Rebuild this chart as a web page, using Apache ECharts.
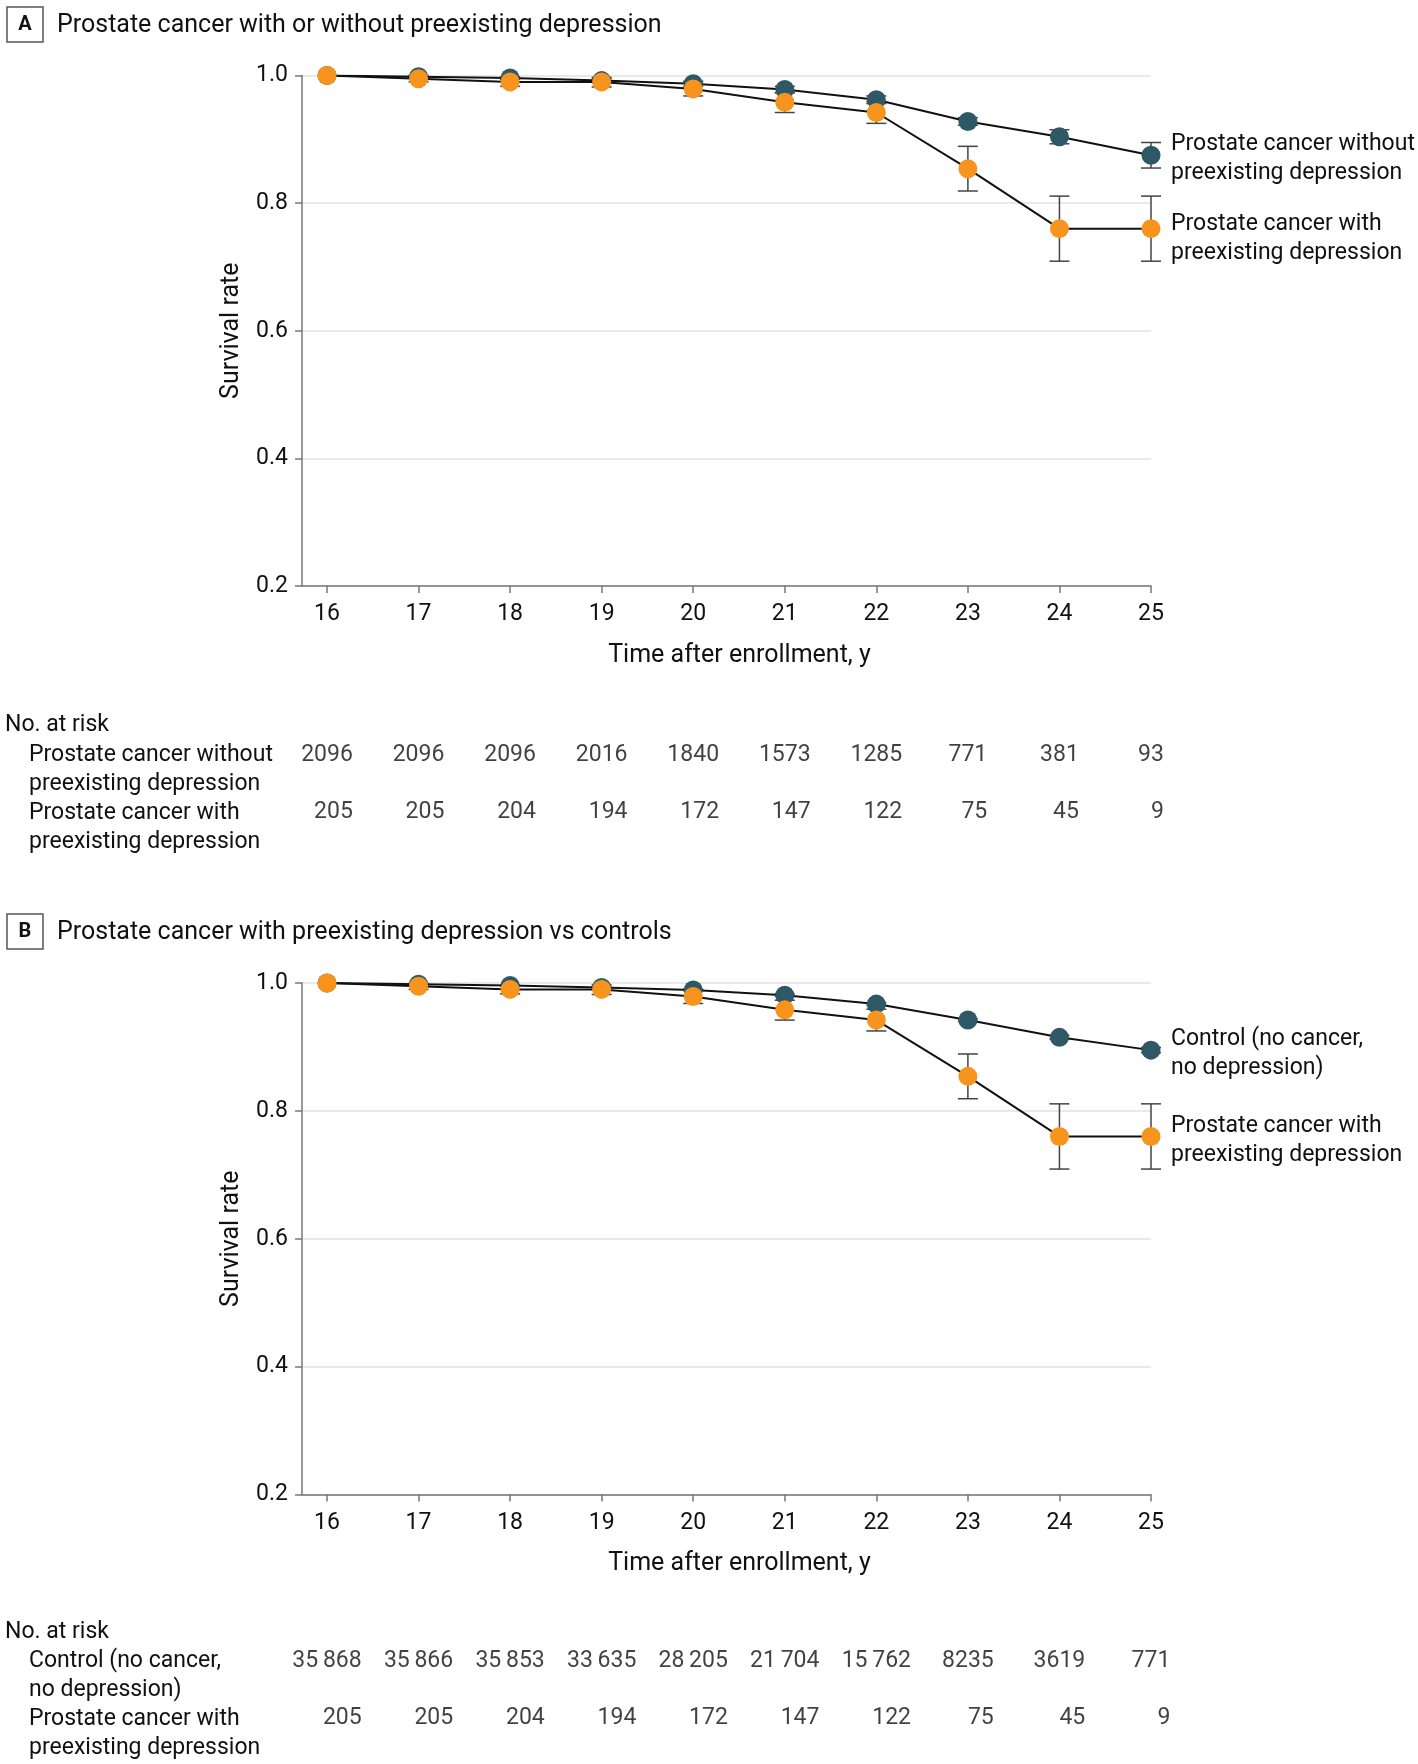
<!DOCTYPE html>
<html>
<head>
<meta charset="utf-8">
<script src="https://cdn.jsdelivr.net/npm/echarts@6/dist/echarts.min.js"></script>
</head>
<body style="margin:0;background:#fff;">
<div id="main" style="width:1418px;height:1764px;"></div>
<script type="text/javascript">
    // data
    var years = [16, 17, 18, 19, 20, 21, 22, 23, 24, 25];

    // panel A: prostate cancer without preexisting depression
    var withoutDep = [1.000, 0.998, 0.996, 0.992, 0.987, 0.978, 0.962, 0.928, 0.904, 0.875];
    var withoutDepLo = [null, 0.996, 0.994, 0.989, 0.983, 0.973, 0.956, 0.922, 0.893, 0.855];
    var withoutDepHi = [null, 1.000, 0.998, 0.995, 0.991, 0.983, 0.968, 0.934, 0.915, 0.895];

    // prostate cancer with preexisting depression (same in A and B)
    var withDep = [1.000, 0.995, 0.990, 0.990, 0.979, 0.958, 0.942, 0.854, 0.760, 0.760];
    var withDepLo = [null, 0.990, 0.983, 0.982, 0.968, 0.942, 0.925, 0.819, 0.709, 0.709];
    var withDepHi = [null, 0.999, 0.996, 0.997, 0.990, 0.973, 0.959, 0.889, 0.811, 0.811];

    // panel B: controls
    var control = [1.000, 0.998, 0.996, 0.993, 0.989, 0.981, 0.967, 0.942, 0.915, 0.895];
    var controlLo = [null, 0.997, 0.995, 0.992, 0.988, 0.979, 0.965, 0.940, 0.912, 0.891];
    var controlHi = [null, 0.999, 0.997, 0.994, 0.990, 0.983, 0.969, 0.944, 0.918, 0.899];

    // numbers at risk
    var riskWithoutDep = [2096, 2096, 2096, 2016, 1840, 1573, 1285, 771, 381, 93];
    var riskWithDep = [205, 205, 204, 194, 172, 147, 122, 75, 45, 9];
    var riskControl = [35868, 35866, 35853, 33635, 28205, 21704, 15762, 8235, 3619, 771];

    var DARK = '#2e5866';
    var ORANGE = '#f7941e';
    var FONT = 'Roboto';
    var FS = 23;
    var FS_BIG = 25;
    var X_MIN = 15.727;

    var ctx = document.createElement('canvas').getContext('2d');
    ctx.font = FS + 'px ' + FONT;
    function tw(s) { return ctx.measureText(s).width; }

    function fmt(n) {
        var s = String(n);
        if (n >= 10000) s = s.slice(0, s.length - 3) + '\u2009' + s.slice(-3);
        return s;
    }

    var myChart = echarts.init(document.getElementById('main'));

    var txt = {fontFamily: FONT, fontSize: FS, color: '#111'};
    var txtBig = {fontFamily: FONT, fontSize: FS_BIG, color: '#111'};

    function plotX(gi) {
        return {
            type: 'value', gridIndex: gi, min: X_MIN, max: 25,
            axisLine: {lineStyle: {color: '#777', width: 1.5}},
            axisTick: {show: true, length: 7, customValues: years, lineStyle: {color: '#777', width: 1.5}},
            axisLabel: Object.assign({customValues: years, margin: 17}, txt),
            splitLine: {show: false},
            name: 'Time after enrollment, y', nameLocation: 'middle', nameGap: 57,
            nameTextStyle: Object.assign({padding: [0, 0, 0, 26]}, txtBig)
        };
    }
    function plotY(gi) {
        return {
            type: 'value', gridIndex: gi, min: 0.2, max: 1.0, interval: 0.2,
            axisLine: {show: true, lineStyle: {color: '#777', width: 1.5}},
            axisTick: {show: true, length: 7, lineStyle: {color: '#777', width: 1.5}},
            axisLabel: Object.assign({margin: 14, formatter: function (v) { return v.toFixed(1); }}, txt),
            splitLine: {show: true, lineStyle: {color: '#e2e2e2', width: 1.5}},
            name: 'Survival rate', nameLocation: 'middle', nameGap: 58, nameRotate: 90,
            nameTextStyle: txtBig
        };
    }
    function riskX(gi) {
        return {type: 'value', gridIndex: gi, min: X_MIN, max: 25, show: false};
    }
    function riskY(gi, names) {
        return {
            type: 'category', gridIndex: gi, data: names, inverse: true,
            axisLine: {show: false}, axisTick: {show: false}, splitLine: {show: false},
            axisLabel: Object.assign({align: 'left', margin: 273, lineHeight: 29}, txt)
        };
    }

    function lineSeries(gi, vals, label, dy) {
        return {
            type: 'line', xAxisIndex: gi, yAxisIndex: gi, z: 2,
            data: years.map(function (x, i) { return [x, vals[i]]; }),
            symbol: 'none', lineStyle: {color: '#111', width: 2},
            endLabel: Object.assign({show: true, formatter: label, distance: 20, offset: [0, dy], lineHeight: 29}, txt),
            silent: true
        };
    }
    function dotSeries(gi, vals, color) {
        return {
            type: 'scatter', xAxisIndex: gi, yAxisIndex: gi, z: 3,
            data: years.map(function (x, i) { return [x, vals[i]]; }),
            symbol: 'circle', symbolSize: 19, itemStyle: {color: color, opacity: 1}
        };
    }
    function errSeries(gi, lo, hi) {
        var d = [];
        years.forEach(function (x, i) { if (lo[i] != null) d.push([x, lo[i], hi[i]]); });
        return {
            type: 'custom', xAxisIndex: gi, yAxisIndex: gi, z: 1,
            data: d, encode: {x: 0, y: [1, 2]},
            renderItem: function (params, api) {
                var t = api.coord([api.value(0), api.value(2)]);
                var b = api.coord([api.value(0), api.value(1)]);
                var h = 10;
                var st = {stroke: '#444', lineWidth: 1.5};
                return {type: 'group', children: [
                    {type: 'line', shape: {x1: t[0], y1: t[1], x2: b[0], y2: b[1]}, style: st},
                    {type: 'line', shape: {x1: t[0] - h, y1: t[1], x2: t[0] + h, y2: t[1]}, style: st},
                    {type: 'line', shape: {x1: b[0] - h, y1: b[1], x2: b[0] + h, y2: b[1]}, style: st}
                ]};
            }
        };
    }
    function riskSeries(gi, top, bottom) {
        var d = [];
        years.forEach(function (x, i) {
            var half = tw(fmt(top[i])) / 2;
            d.push({name: fmt(top[i]), value: [x, 0], label: {offset: [half, -14.5]}});
            d.push({name: fmt(bottom[i]), value: [x, 1], label: {offset: [half, -15]}});
        });
        return {
            type: 'scatter', xAxisIndex: gi, yAxisIndex: gi, data: d,
            symbolSize: 1, itemStyle: {color: 'rgba(0,0,0,0)'},
            label: Object.assign({show: true, position: 'inside', align: 'right', verticalAlign: 'middle', formatter: '{b}'}, txt),
            silent: true
        };
    }

    function panelHeader(letter, title, dy) {
        return [
            {type: 'rect', shape: {x: 7, y: 7 + dy, width: 36, height: 35},
             style: {fill: 'none', stroke: '#555', lineWidth: 1.5}},
            {type: 'text', x: 25, y: 25 + dy,
             style: {text: letter, fontFamily: FONT, fontSize: 20, fontWeight: 'bold', fill: '#111', align: 'center', verticalAlign: 'middle'}},
            {type: 'text', x: 57, y: 25.5 + dy,
             style: {text: title, fontFamily: FONT, fontSize: FS_BIG, fill: '#111', verticalAlign: 'middle'}},
            {type: 'text', x: 5, y: 725 + dy,
             style: {text: 'No. at risk', fontFamily: FONT, fontSize: FS, fill: '#111', verticalAlign: 'middle'}}
        ];
    }

    var labWithout = 'Prostate cancer without\npreexisting depression';
    var labWith = 'Prostate cancer with\npreexisting depression';
    var labControl = 'Control (no cancer,\nno depression)';

    var option = {
        animation: false,
        backgroundColor: '#fff',
        grid: [
            {left: 302, right: 267, top: 75.5, height: 510.5},
            {left: 302, right: 267, top: 740.5, height: 116},
            {left: 302, right: 267, top: 983, height: 511.5},
            {left: 302, right: 267, top: 1646.5, height: 116}
        ],
        xAxis: [plotX(0), riskX(1), plotX(2), riskX(3)],
        yAxis: [plotY(0), riskY(1, [labWithout, labWith]), plotY(2), riskY(3, [labControl, labWith])],
        graphic: panelHeader('A', 'Prostate cancer with or without preexisting depression', 0)
            .concat(panelHeader('B', 'Prostate cancer with preexisting depression vs controls', 907)),
        series: [
            errSeries(0, withoutDepLo, withoutDepHi),
            errSeries(0, withDepLo, withDepHi),
            lineSeries(0, withoutDep, labWithout, 3),
            lineSeries(0, withDep, labWith, 10),
            dotSeries(0, withoutDep, DARK),
            dotSeries(0, withDep, ORANGE),
            riskSeries(1, riskWithoutDep, riskWithDep),

            errSeries(2, controlLo, controlHi),
            errSeries(2, withDepLo, withDepHi),
            lineSeries(2, control, labControl, 4),
            lineSeries(2, withDep, labWith, 4),
            dotSeries(2, control, DARK),
            dotSeries(2, withDep, ORANGE),
            riskSeries(3, riskControl, riskWithDep)
        ]
    };
    myChart.setOption(option);
</script>
</body>
</html>
